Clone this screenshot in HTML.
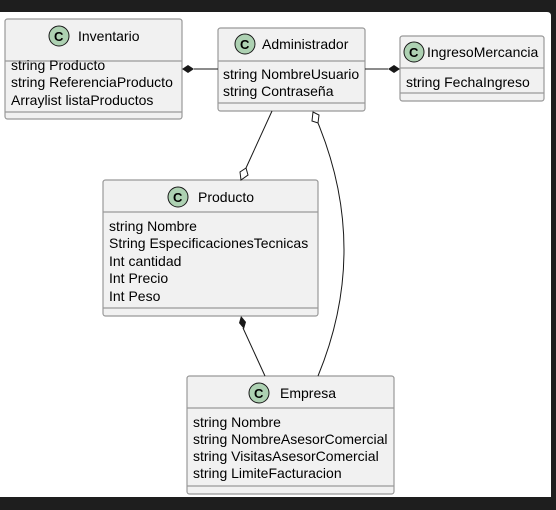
<!DOCTYPE html>
<html><head><meta charset="utf-8"><style>
html,body{margin:0;padding:0;background:#1e1e1e;}
svg{display:block;}
text{font-family:"Liberation Sans",Arial,sans-serif;font-size:14px;fill:#000;}
.b{fill:#f1f1f1;stroke:#999;stroke-width:1.2;}
.d{stroke:#999;stroke-width:1.2;}
.c{fill:#add1b2;stroke:#181818;stroke-width:1;}
.ct{font-weight:bold;font-size:13px;}
.l{stroke:#181818;stroke-width:1;fill:none;}
</style></head><body>
<svg width="556" height="510" viewBox="0 0 556 510">
<rect x="0" y="0" width="556" height="510" fill="#1e1e1e"/>
<path d="M0 12 H547 Q551 12 551 16 V497 H0 Z" fill="#fff"/>

<!-- Inventario -->
<rect class="b" x="5" y="19" width="177" height="100" rx="2.5"/>
<line class="d" x1="5" y1="61" x2="182" y2="61"/>
<line class="d" x1="5" y1="112" x2="182" y2="112"/>
<circle class="c" cx="59" cy="36" r="10"/><text class="ct" x="54" y="41">C</text>
<text x="78" y="41">Inventario</text>
<text x="11" y="70">string Producto</text>
<text x="11" y="87">string ReferenciaProducto</text>
<text x="11" y="105">Arraylist listaProductos</text>

<!-- Administrador -->
<rect class="b" x="218" y="28" width="147" height="83" rx="2.5"/>
<line class="d" x1="218" y1="61" x2="365" y2="61"/>
<line class="d" x1="218" y1="103" x2="365" y2="103"/>
<circle class="c" cx="245" cy="44" r="10"/><text class="ct" x="240" y="49">C</text>
<text x="262" y="49">Administrador</text>
<text x="223" y="79">string NombreUsuario</text>
<text x="223" y="96">string Contraseña</text>

<!-- IngresoMercancia -->
<rect class="b" x="400" y="36" width="144" height="65" rx="2.5"/>
<line class="d" x1="400" y1="68" x2="544" y2="68"/>
<line class="d" x1="400" y1="93" x2="544" y2="93"/>
<circle class="c" cx="414" cy="52" r="10"/><text class="ct" x="409" y="57">C</text>
<text x="427" y="57">IngresoMercancia</text>
<text x="406" y="87">string FechaIngreso</text>

<!-- Producto -->
<rect class="b" x="103" y="180" width="215" height="136" rx="2.5"/>
<line class="d" x1="103" y1="212" x2="318" y2="212"/>
<line class="d" x1="103" y1="308" x2="318" y2="308"/>
<circle class="c" cx="178" cy="197" r="10"/><text class="ct" x="173" y="202">C</text>
<text x="198" y="202">Producto</text>
<text x="109" y="231">string Nombre</text>
<text x="109" y="248">String EspecificacionesTecnicas</text>
<text x="109" y="266">Int cantidad</text>
<text x="109" y="283">Int Precio</text>
<text x="109" y="301">Int Peso</text>

<!-- Empresa -->
<rect class="b" x="187" y="376" width="207" height="118" rx="2.5"/>
<line class="d" x1="187" y1="408" x2="394" y2="408"/>
<line class="d" x1="187" y1="486" x2="394" y2="486"/>
<circle class="c" cx="259" cy="393" r="10"/><text class="ct" x="254" y="398">C</text>
<text x="280" y="398">Empresa</text>
<text x="193" y="427">string Nombre</text>
<text x="193" y="444">string NombreAsesorComercial</text>
<text x="193" y="461">string VisitasAsesorComercial</text>
<text x="193" y="478">string LimiteFacturacion</text>

<!-- connectors -->
<line class="l" x1="194" y1="69" x2="218" y2="69"/>
<polygon points="182,69 188,65 194,69 188,73" fill="#181818"/>
<line class="l" x1="365" y1="69" x2="388" y2="69"/>
<polygon points="400,69 394,65 388,69 394,73" fill="#181818"/>

<line class="l" x1="272" y1="111" x2="246" y2="168"/>
<polygon points="241,180 240,172 246,168 248,175" fill="#fff" stroke="#181818"/>

<polygon points="313,112 319,115 318,123 312,121" fill="#fff" stroke="#181818"/>
<path class="l" d="M318 123 Q370 250 318 376"/>

<polygon points="241,316 246,322 244,329 239,323" fill="#181818"/>
<line class="l" x1="243" y1="328" x2="265" y2="376"/>
</svg>
</body></html>
